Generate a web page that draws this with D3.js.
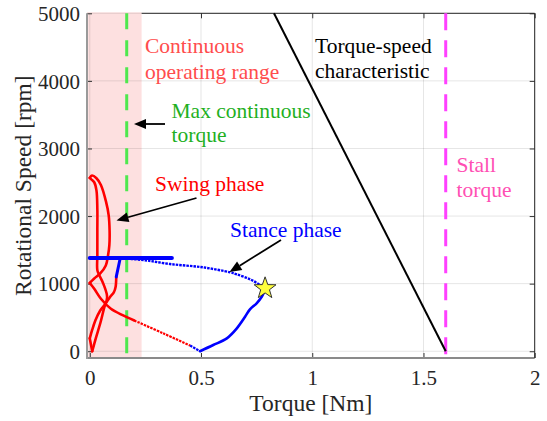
<!DOCTYPE html>
<html><head><meta charset="utf-8">
<script src="https://cdn.jsdelivr.net/npm/d3@7"></script>
<style>
body{margin:0;background:#fff;font-family:"Liberation Serif",serif}
svg{display:block}
svg text{font-family:"Liberation Serif","Times New Roman",Times,serif !important}
</style>
</head><body><svg id="c" width="547" height="421" font-family="Liberation Serif"></svg>
<script>
// ---------- data ----------
const xTicks = [0, 0.5, 1, 1.5, 2];
const xTickLabels = ["0", "0.5", "1", "1.5", "2"];
const yTicks = [0, 1000, 2000, 3000, 4000, 5000];
const yTickLabels = ["0", "1000", "2000", "3000", "4000", "5000"];
const xDomain = [-0.0125, 2];
const yDomain = [-100, 5000];

const continuousRange = [-0.0125, 0.233];
const maxContinuousTorque = 0.166;
const stallTorque = 1.6;
const tsTorque = [1.6, 0.828];
const tsSpeed = [0, 5000];

// swing phase (red), split at its sharp corners
const swingATorque = [0.119,0.116,0.108,0.092,0.070,0.047,0.025,0.010,0.000];
const swingASpeed  = [1100,950,870,806,700,603,455,307,190];
const swingBTorque = [0.000,0.011];
const swingBSpeed  = [190,0];
const swingCTorque = [0.011,0.027,0.049,0.064,0.078,0.062,0.042,0.034,0.034,0.034,0.034,0.030,0.020,0.008,0.000];
const swingCSpeed  = [0,191,436,635,800,990,1130,1200,1420,1800,2100,2380,2500,2540,2565];
const swingDTorque = [0.000,0.010,0.030,0.050,0.073,0.085,0.089,0.088,0.082,0.072,0.047,0.020,0.000];
const swingDSpeed  = [2565,2600,2560,2460,2214,2011,1789,1571,1418,1270,1151,1077,1010];
const swingETorque = [0.000,0.020,0.050,0.095,0.150,0.200];
const swingESpeed  = [1010,925,777,628,530,455];
const swingTailTorque = [0.200, 0.330, 0.451];
const swingTailSpeed  = [455, 265, 84];

// stance phase (blue)
const stanceLinkTorque = [0.451, 0.4955];
const stanceLinkSpeed  = [84, 0];
const stanceRiseTorque = [0.4955,0.555,0.616,0.661,0.698,0.720,0.750,0.773,0.788];
const stanceRiseSpeed  = [0,92,191,339,510,620,709,806,905];
const stanceTopTorque = [0.788,0.766,0.721,0.661,0.631,0.510,0.361,0.241,0.136,0.001];
const stanceTopSpeed  = [931,979,1064,1138,1167,1241,1290,1349,1374,1389];
const stanceFlatTorque = [0.0, 0.369];
const stanceFlatSpeed  = [1380, 1380];
const stanceDropTorque = [0.137, 0.119];
const stanceDropSpeed  = [1380, 1100];

const peakPoint = [0.788, 931];

// ---------- layout ----------
const FONT = "Liberation Serif";
const L = 87, R = 534.7, T = 13.3, B = 358;
const svg = d3.select("#c");
const x = d3.scaleLinear().domain(xDomain).range([L, R]);
const y = d3.scaleLinear().domain(yDomain).range([B, T]);
const zip = (a, b) => a.map((v, i) => [v, b[i]]);
const line = d3.line().x(d => x(d[0])).y(d => y(d[1]));
const smooth = d3.line().x(d => x(d[0])).y(d => y(d[1])).curve(d3.curveCatmullRom.alpha(0.5));

// patch
svg.append("rect")
  .attr("x", x(continuousRange[0])).attr("y", T - 1)
  .attr("width", x(continuousRange[1]) - x(continuousRange[0]))
  .attr("height", B - T + 1)
  .attr("fill", "#fde0e0");

// grid
const g = svg.append("g");
g.selectAll(".gx").data(xTicks).join("line")
  .attr("x1", d => x(d)).attr("x2", d => x(d)).attr("y1", T).attr("y2", B)
  .attr("stroke", "#000").attr("stroke-opacity", 0.1).attr("stroke-width", 1);
g.selectAll(".gy").data(yTicks).join("line")
  .attr("y1", d => y(d)).attr("y2", d => y(d)).attr("x1", L).attr("x2", R)
  .attr("stroke", "#000").attr("stroke-opacity", 0.1).attr("stroke-width", 1);

// axes via d3
const axB = svg.append("g").attr("transform", `translate(0,${B})`)
  .call(d3.axisBottom(x).tickValues(xTicks).tickFormat((d, i) => xTickLabels[i]).tickSizeInner(-5).tickSizeOuter(0));
const axL = svg.append("g").attr("transform", `translate(${L},0)`)
  .call(d3.axisLeft(y).tickValues(yTicks).tickFormat((d, i) => yTickLabels[i]).tickSizeInner(-5).tickSizeOuter(0));
const axT = svg.append("g").attr("transform", `translate(0,${T})`)
  .call(d3.axisTop(x).tickValues(xTicks).tickFormat("").tickSizeInner(-5).tickSizeOuter(0));
const axR = svg.append("g").attr("transform", `translate(${R},0)`)
  .call(d3.axisRight(y).tickValues(yTicks).tickFormat("").tickSizeInner(-5).tickSizeOuter(0));
[axB, axL, axT, axR].forEach(a => {
  a.attr("font-family", FONT).attr("font-size", 21);
  a.select(".domain").remove();
  a.selectAll(".tick line").attr("stroke", "#333");
  a.selectAll("text").attr("fill", "#262626").attr("font-family", FONT).attr("font-size", 21);
});
axB.selectAll("text").attr("y", 27).attr("dy", null);
axL.selectAll("text").attr("x", -7).attr("dy", "0.34em");
axT.selectAll(".tick").filter(d => x(d) < x(continuousRange[1])).remove();

// spines
svg.append("line").attr("x1", L).attr("x2", R).attr("y1", B).attr("y2", B).attr("stroke", "#8a8a8a").attr("stroke-width", 2);
svg.append("line").attr("x1", L).attr("x2", L).attr("y1", T).attr("y2", B + 1).attr("stroke", "#9a9a9a").attr("stroke-width", 2);
svg.append("line").attr("x1", R).attr("x2", R).attr("y1", T).attr("y2", B).attr("stroke", "#262626").attr("stroke-width", 1);
svg.append("line").attr("x1", x(continuousRange[1])).attr("x2", R).attr("y1", T).attr("y2", T).attr("stroke", "#262626").attr("stroke-width", 1);

// vertical dashed lines
svg.append("line").attr("x1", x(maxContinuousTorque)).attr("x2", x(maxContinuousTorque)).attr("y1", T).attr("y2", B)
  .attr("stroke", "#4ee84e").attr("stroke-width", 3).attr("stroke-dasharray", "16,11");
svg.append("line").attr("x1", x(stallTorque)).attr("x2", x(stallTorque)).attr("y1", T).attr("y2", B)
  .attr("stroke", "#ff40ff").attr("stroke-width", 3).attr("stroke-dasharray", "17,10");

// torque-speed characteristic
svg.append("path").attr("d", line(zip(tsTorque, tsSpeed))).attr("fill", "none").attr("stroke", "#000").attr("stroke-width", 2);

// curves
const path = (tq, sp, color, w, dash, gen) => {
  const p = svg.append("path").attr("d", (gen || smooth)(zip(tq, sp))).attr("fill", "none")
    .attr("stroke", color).attr("stroke-width", w).attr("stroke-linejoin", "round").attr("stroke-linecap", "round");
  if (dash) p.attr("stroke-dasharray", dash).attr("stroke-linecap", "butt");
};
path(swingTailTorque, swingTailSpeed, "#ff0000", 2.2, "2.5,1");
path(stanceLinkTorque, stanceLinkSpeed, "#0000ff", 2.2, "2.5,1");
path(stanceTopTorque, stanceTopSpeed, "#0000ff", 2.4, "2.5,1");
path(swingATorque, swingASpeed, "#ff0000", 2.6);
path(swingBTorque, swingBSpeed, "#ff0000", 2.6);
path(swingCTorque, swingCSpeed, "#ff0000", 2.6);
path(swingDTorque, swingDSpeed, "#ff0000", 2.6);
path(swingETorque, swingESpeed, "#ff0000", 2.6);
path(stanceRiseTorque, stanceRiseSpeed, "#0000ff", 2.6);
path(stanceFlatTorque, stanceFlatSpeed, "#0000ff", 4, null, line);
path(stanceDropTorque, stanceDropSpeed, "#0000ff", 3, null, line);

// star marker
const cx = x(peakPoint[0]), cy = y(peakPoint[1]);
const ro = 11.5, ri = 4.6;
const starPts = d3.range(10).map(i => {
  const a = -Math.PI / 2 + i * Math.PI / 5, r = i % 2 ? ri : ro;
  return [cx + r * Math.cos(a), cy + r * Math.sin(a)];
});
svg.append("polygon").attr("points", starPts.map(p => p.join(",")).join(" "))
  .attr("fill", "#ffff3c").attr("stroke", "#333").attr("stroke-width", 1);

// annotations
const txt = (s, tx, ty, color) => svg.append("text").attr("x", tx).attr("y", ty).attr("fill", color)
  .attr("font-family", FONT).attr("font-size", 21.5).text(s);
txt("Continuous", 145, 53, "#ff4d4d");
txt("operating range", 145, 78.5, "#ff4d4d");
txt("Max continuous", 171.5, 118, "#1fb01f");
txt("torque", 171.5, 141.5, "#1fb01f");
txt("Torque-speed", 315, 52.5, "#000");
txt("characteristic", 315, 78, "#000");
txt("Stall", 456.5, 171.5, "#ff4fb3");
txt("torque", 456.5, 196.5, "#ff4fb3");
txt("Swing phase", 155, 191, "#ff0000");
txt("Stance phase", 230, 237, "#0000ff");

const arrow = (x1, y1, x2, y2) => {
  const a = Math.atan2(y2 - y1, x2 - x1), hl = 12, hw = 5;
  const bx = x2 - hl * Math.cos(a), by = y2 - hl * Math.sin(a);
  svg.append("line").attr("x1", x1).attr("y1", y1).attr("x2", bx).attr("y2", by).attr("stroke", "#000").attr("stroke-width", 1.8);
  const px = -Math.sin(a) * hw, py = Math.cos(a) * hw;
  svg.append("polygon").attr("points", `${x2},${y2} ${bx + px},${by + py} ${bx - px},${by - py}`).attr("fill", "#000");
};
arrow(165, 124, 134, 124);
arrow(196.5, 198, 116.5, 220.5);
arrow(281, 240, 229.5, 272);

// axis labels
svg.append("text").attr("x", (L + R) / 2).attr("y", 411).attr("text-anchor", "middle")
  .attr("font-family", FONT).attr("font-size", 23.5).attr("fill", "#262626").text("Torque [Nm]");
svg.append("text").attr("transform", `translate(31,${(T + B) / 2}) rotate(-90)`).attr("text-anchor", "middle")
  .attr("font-family", FONT).attr("font-size", 23.5).attr("fill", "#262626").text("Rotational Speed [rpm]");
</script></body></html>
